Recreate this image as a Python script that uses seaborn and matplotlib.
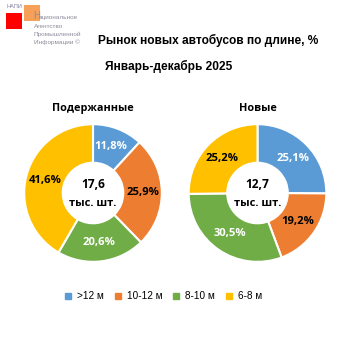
import numpy as np
import matplotlib
matplotlib.use("Agg")
import matplotlib.pyplot as plt
import seaborn as sns
from matplotlib.lines import Line2D
from matplotlib.patches import Rectangle

# --- DATA ---
categories = [">12 м", "10-12 м", "8-10 м", "6-8 м"]
used_share = [11.8, 25.9, 20.6, 41.6]
new_share = [25.1, 19.2, 30.5, 25.2]
used_total = "17,6"
new_total = "12,7"
panel_titles = ["Подержанные", "Новые"]
title = "Рынок новых автобусов по длине, %"
subtitle = "Январь-декабрь 2025"

sns.set_style("white")
plt.rcParams['font.family'] = ['Open Sans', 'DejaVu Sans']
plt.rcParams['text.color'] = 'black'
ARIAL = ["Liberation Sans", "DejaVu Sans"]

palette = sns.color_palette(["#5B9BD5", "#ED7D31", "#70AD47", "#FFC000"])
label_colors = ["white", "black", "white", "black"]

W = H = 353
fig = plt.figure(figsize=(W / 100, H / 100), dpi=100)
fig.patch.set_facecolor("white")


def px_axes(cx, cy, r):
    # axes box in pixel coords (top-left origin) -> figure fraction
    return fig.add_axes([(cx - r) / W, (H - cy - r) / H, 2 * r / W, 2 * r / H])


def donut(ax, values, total, name):
    wedges, _ = ax.pie(values, colors=palette, startangle=90, counterclock=False,
                       radius=1, wedgeprops=dict(width=0.56, edgecolor="white", linewidth=1.5))
    for i, w in enumerate(wedges):
        ang = np.deg2rad((w.theta1 + w.theta2) / 2)
        rr = 0.72
        ax.text(rr * np.cos(ang), rr * np.sin(ang), f"{values[i]:.1f}%".replace(".", ","),
                ha="center", va="center", fontsize=8.1, fontweight="bold", color=label_colors[i])
    ax.text(0, 0.13, total, ha="center", va="center", fontsize=8.6, fontweight="bold")
    ax.text(0, -0.15, "тыс. шт.", ha="center", va="center", fontsize=8, fontweight="bold")
    ax.set_xlim(-1.01, 1.01)
    ax.set_ylim(-1.01, 1.01)
    ax.set_aspect("equal")
    ax.axis("off")
    ax.set_title(name, fontsize=7.8, fontweight="bold", pad=9)


ax1 = px_axes(93, 193, 69.5)
donut(ax1, used_share, used_total, panel_titles[0])
ax2 = px_axes(257.5, 193, 69.5)
donut(ax2, new_share, new_total, panel_titles[1])

# titles
fig.text(208 / W, 1 - 40 / H, title, ha="center", va="center", fontsize=8.6,
         fontweight="bold", family=ARIAL)
fig.text(169 / W, 1 - 66 / H, subtitle, ha="center", va="center", fontsize=8.6,
         fontweight="bold", family=ARIAL)

# legend
handles = [Line2D([], [], marker="s", linestyle="none", markersize=4.5,
                  markerfacecolor=c, markeredgecolor=c) for c in palette]
fig.legend(handles, categories, loc="center", bbox_to_anchor=(163 / W, 1 - 296 / H),
           ncol=4, frameon=False, handlelength=0.8, handletextpad=0.5,
           columnspacing=1.0, prop={"family": ARIAL, "size": 7.2})

# logo
fig.patches.append(Rectangle((24 / W, 1 - 21 / H), 16 / W, 16 / H, transform=fig.transFigure,
                             facecolor="#F79646", edgecolor="none", alpha=0.9))
fig.patches.append(Rectangle((6 / W, 1 - 29 / H), 16 / W, 16 / H, transform=fig.transFigure,
                             facecolor="#FF0000", edgecolor="none"))
fig.text(6 / W, 1 - 7 / H, "НАПИ", fontsize=4, color="#7F7F9F", va="center", ha="left",
         family=ARIAL)
fig.text(33 / W, 1 - 16 / H, "Н", fontsize=7, color="#8C8C9C", va="center", ha="left",
         family=ARIAL)
logo_lines = ["ациональное", "Агентство", "Промышленной", "Информации ©"]
logo_x = [39, 34, 34, 34]
for k, line in enumerate(logo_lines):
    fig.text(logo_x[k] / W, 1 - (18 + 8 * k) / H, line, fontsize=4.6, color="#8C8C9C",
             va="center", ha="left", family=ARIAL)

fig.savefig("out.png", dpi=100, facecolor="white")
